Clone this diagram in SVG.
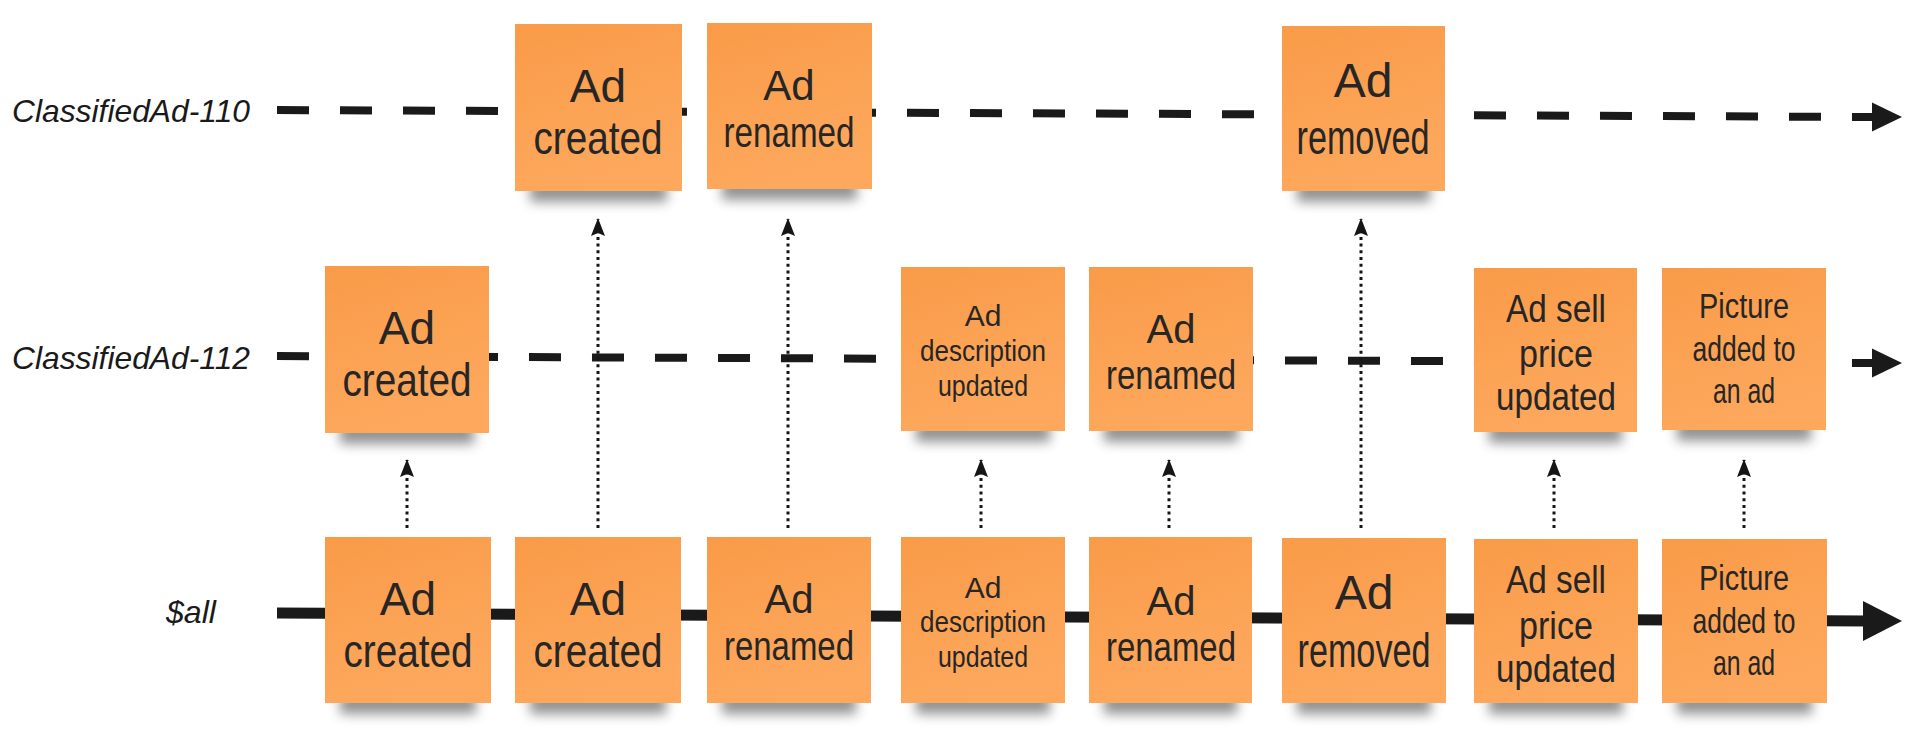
<svg xmlns="http://www.w3.org/2000/svg" width="1928" height="747" viewBox="0 0 1928 747">
<defs>
<linearGradient id="paper" x1="0" y1="0" x2="0.3" y2="1">
<stop offset="0" stop-color="#F99B48"/>
<stop offset="1" stop-color="#FDA85D"/>
</linearGradient>
<filter id="blur" x="-20%" y="-100%" width="140%" height="300%">
<feGaussianBlur stdDeviation="6"/>
</filter>
<marker id="dotHead" viewBox="0 0 18 16" markerWidth="18" markerHeight="16" refX="17" refY="8" orient="auto" markerUnits="userSpaceOnUse">
<path d="M0 1 L18 8 L0 15 L3 8 Z" fill="#151515"/>
</marker>
</defs>
<style>
.sticky{fill:url(#paper);}
.shadow{fill:#3a3a3a;opacity:0.55;filter:url(#blur);}
.t{font-family:"Liberation Sans Narrow","Liberation Sans",sans-serif;fill:#262626;text-anchor:middle;}
.lbl{font-family:"Liberation Sans","DejaVu Sans",sans-serif;font-style:italic;fill:#1a1a1a;font-size:32px;}
.dash{stroke:#1a1a1a;stroke-width:8;stroke-dasharray:32 31;fill:none;}
.solid{stroke:#1a1a1a;stroke-width:11;fill:none;}
.dot{stroke:#151515;stroke-width:3;stroke-dasharray:3 3.7;fill:none;}
.head{fill:#1a1a1a;}
</style>

<g id="labels">
<text class="lbl" x="12" y="122" textLength="238" lengthAdjust="spacingAndGlyphs">ClassifiedAd-110</text>
<text class="lbl" x="12" y="369" textLength="238" lengthAdjust="spacingAndGlyphs">ClassifiedAd-112</text>
<text class="lbl" x="166" y="623" textLength="50" lengthAdjust="spacingAndGlyphs">$all</text>
</g>

<g id="streams">
<line class="dash" x1="277" y1="110" x2="1872" y2="117"/>
<polygon class="head" points="1872,102.5 1902,117 1872,131.5"/>
<line class="dash" x1="277" y1="356" x2="1872" y2="363"/>
<polygon class="head" points="1872,348.5 1902,363 1872,377.5"/>
<line class="solid" x1="277" y1="613" x2="1866" y2="621"/>
<polygon class="head" points="1863,601 1902,621 1863,641"/>
</g>

<g id="n1a"><rect class="shadow" x="530" y="180" width="137" height="22"/><rect class="sticky" x="515" y="24" width="167" height="167"/>
<text class="t" font-size="46" x="598" y="102">Ad</text><text class="t" font-size="46" x="598" y="154" textLength="129" lengthAdjust="spacingAndGlyphs">created</text></g>
<g id="n1b"><rect class="shadow" x="722" y="178" width="135" height="22"/><rect class="sticky" x="707" y="23" width="165" height="166"/>
<text class="t" font-size="42" x="789" y="100">Ad</text><text class="t" font-size="42" x="789" y="147" textLength="131" lengthAdjust="spacingAndGlyphs">renamed</text></g>
<g id="n1c"><rect class="shadow" x="1297" y="180" width="133" height="22"/><rect class="sticky" x="1282" y="26" width="163" height="165"/>
<text class="t" font-size="48" x="1363" y="97">Ad</text><text class="t" font-size="48" x="1363" y="154" textLength="133" lengthAdjust="spacingAndGlyphs">removed</text></g>

<g id="n2a"><rect class="shadow" x="340" y="422" width="134" height="22"/><rect class="sticky" x="325" y="266" width="164" height="167"/>
<text class="t" font-size="46" x="407" y="344">Ad</text><text class="t" font-size="46" x="407" y="396" textLength="129" lengthAdjust="spacingAndGlyphs">created</text></g>
<g id="n2b"><rect class="shadow" x="916" y="420" width="134" height="22"/><rect class="sticky" x="901" y="267" width="164" height="164"/>
<text class="t" font-size="30" x="983" y="326">Ad</text><text class="t" font-size="30" x="983" y="361" textLength="126" lengthAdjust="spacingAndGlyphs">description</text><text class="t" font-size="30" x="983" y="396" textLength="90" lengthAdjust="spacingAndGlyphs">updated</text></g>
<g id="n2c"><rect class="shadow" x="1104" y="420" width="134" height="22"/><rect class="sticky" x="1089" y="267" width="164" height="164"/>
<text class="t" font-size="40" x="1171" y="343">Ad</text><text class="t" font-size="40" x="1171" y="389" textLength="130" lengthAdjust="spacingAndGlyphs">renamed</text></g>
<g id="n2d"><rect class="shadow" x="1489" y="421" width="133" height="22"/><rect class="sticky" x="1474" y="268" width="163" height="164"/>
<text class="t" font-size="38" x="1556" y="322" textLength="100" lengthAdjust="spacingAndGlyphs">Ad sell</text><text class="t" font-size="38" x="1556" y="367" textLength="74" lengthAdjust="spacingAndGlyphs">price</text><text class="t" font-size="38" x="1556" y="410" textLength="120" lengthAdjust="spacingAndGlyphs">updated</text></g>
<g id="n2e"><rect class="shadow" x="1677" y="419" width="134" height="22"/><rect class="sticky" x="1662" y="268" width="164" height="162"/>
<text class="t" font-size="35" x="1744" y="318" textLength="90" lengthAdjust="spacingAndGlyphs">Picture</text><text class="t" font-size="35" x="1744" y="361" textLength="103" lengthAdjust="spacingAndGlyphs">added to</text><text class="t" font-size="35" x="1744" y="403" textLength="62" lengthAdjust="spacingAndGlyphs">an ad</text></g>

<g id="n3a"><rect class="shadow" x="340" y="692" width="136" height="22"/><rect class="sticky" x="325" y="537" width="166" height="166"/>
<text class="t" font-size="46" x="408" y="615">Ad</text><text class="t" font-size="46" x="408" y="667" textLength="129" lengthAdjust="spacingAndGlyphs">created</text></g>
<g id="n3b"><rect class="shadow" x="530" y="692" width="136" height="22"/><rect class="sticky" x="515" y="537" width="166" height="166"/>
<text class="t" font-size="46" x="598" y="615">Ad</text><text class="t" font-size="46" x="598" y="667" textLength="129" lengthAdjust="spacingAndGlyphs">created</text></g>
<g id="n3c"><rect class="shadow" x="722" y="692" width="134" height="22"/><rect class="sticky" x="707" y="537" width="164" height="166"/>
<text class="t" font-size="40" x="789" y="613">Ad</text><text class="t" font-size="40" x="789" y="660" textLength="130" lengthAdjust="spacingAndGlyphs">renamed</text></g>
<g id="n3d"><rect class="shadow" x="916" y="692" width="134" height="22"/><rect class="sticky" x="901" y="537" width="164" height="166"/>
<text class="t" font-size="30" x="983" y="598">Ad</text><text class="t" font-size="30" x="983" y="632" textLength="126" lengthAdjust="spacingAndGlyphs">description</text><text class="t" font-size="30" x="983" y="667" textLength="90" lengthAdjust="spacingAndGlyphs">updated</text></g>
<g id="n3e"><rect class="shadow" x="1104" y="692" width="133" height="22"/><rect class="sticky" x="1089" y="537" width="163" height="166"/>
<text class="t" font-size="40" x="1171" y="615">Ad</text><text class="t" font-size="40" x="1171" y="661" textLength="130" lengthAdjust="spacingAndGlyphs">renamed</text></g>
<g id="n3f"><rect class="shadow" x="1297" y="692" width="134" height="22"/><rect class="sticky" x="1282" y="538" width="164" height="165"/>
<text class="t" font-size="48" x="1364" y="609">Ad</text><text class="t" font-size="48" x="1364" y="667" textLength="133" lengthAdjust="spacingAndGlyphs">removed</text></g>
<g id="n3g"><rect class="shadow" x="1489" y="692" width="134" height="22"/><rect class="sticky" x="1474" y="539" width="164" height="164"/>
<text class="t" font-size="38" x="1556" y="593" textLength="100" lengthAdjust="spacingAndGlyphs">Ad sell</text><text class="t" font-size="38" x="1556" y="639" textLength="74" lengthAdjust="spacingAndGlyphs">price</text><text class="t" font-size="38" x="1556" y="682" textLength="120" lengthAdjust="spacingAndGlyphs">updated</text></g>
<g id="n3h"><rect class="shadow" x="1677" y="692" width="135" height="22"/><rect class="sticky" x="1662" y="539" width="165" height="164"/>
<text class="t" font-size="35" x="1744" y="590" textLength="90" lengthAdjust="spacingAndGlyphs">Picture</text><text class="t" font-size="35" x="1744" y="633" textLength="103" lengthAdjust="spacingAndGlyphs">added to</text><text class="t" font-size="35" x="1744" y="675" textLength="62" lengthAdjust="spacingAndGlyphs">an ad</text></g>

<g id="connectors">
<line class="dot" x1="407" y1="528" x2="407" y2="460" marker-end="url(#dotHead)"/>
<line class="dot" x1="598" y1="528" x2="598" y2="219" marker-end="url(#dotHead)"/>
<line class="dot" x1="788" y1="528" x2="788" y2="219" marker-end="url(#dotHead)"/>
<line class="dot" x1="981" y1="528" x2="981" y2="460" marker-end="url(#dotHead)"/>
<line class="dot" x1="1169" y1="528" x2="1169" y2="460" marker-end="url(#dotHead)"/>
<line class="dot" x1="1361" y1="528" x2="1361" y2="219" marker-end="url(#dotHead)"/>
<line class="dot" x1="1554" y1="528" x2="1554" y2="460" marker-end="url(#dotHead)"/>
<line class="dot" x1="1744" y1="528" x2="1744" y2="460" marker-end="url(#dotHead)"/>
</g>
</svg>
